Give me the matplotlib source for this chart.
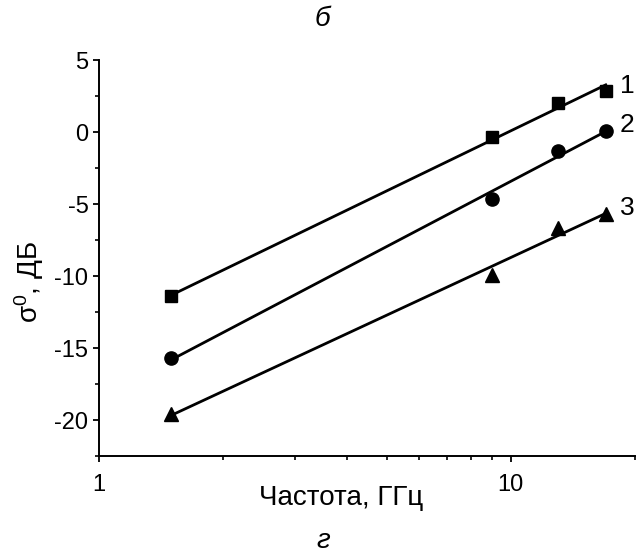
import numpy as np
import matplotlib.pyplot as plt
from matplotlib.ticker import NullFormatter, MultipleLocator

plt.rcParams['font.family'] = ['Liberation Sans', 'DejaVu Sans']
plt.rcParams['mathtext.fontset'] = 'custom'
plt.rcParams['mathtext.rm'] = 'Liberation Sans'
plt.rcParams['mathtext.it'] = 'Liberation Sans:italic'
plt.rcParams['axes.unicode_minus'] = False

# ─── Data: backscatter vs frequency ──────────────────────────────────
freq = [1.5, 9, 13, 17]                       # GHz
sigma_1 = [-11.4, -0.35, 2.0, 2.85]           # dB
sigma_2 = [-15.7, -4.65, -1.3, 0.1]
sigma_3 = [-19.55, -9.95, -6.65, -5.65]
series = [(sigma_1, 's', '1'), (sigma_2, 'o', '2'), (sigma_3, '^', '3')]
xticks = [1, 10]
xtick_labels = ['1', '10']
xminor = [2, 3, 4, 5, 6, 7, 8, 9, 20]

fig = plt.figure(figsize=(6.38, 5.57), dpi=100)
ax = fig.add_axes([0.155, 0.181, 0.84, 0.711])

lf = np.log10(freq)
for y, mk, name in series:
    # linear fit in log-frequency
    k, b = np.polyfit(lf, y, 1)
    xs = np.array([freq[0], freq[-1]])
    ax.plot(xs, k * np.log10(xs) + b, color='black', lw=2.0, zorder=2)
    ms = 8 if mk == 's' else 9.5
    ax.plot(freq, y, linestyle='none', marker=mk, ms=ms, color='black',
            zorder=3)
    ax.annotate(name, (freq[-1], y[-1]), xytext=(10, 4),
                textcoords='offset points', fontsize=19, va='center',
                ha='left')

ax.set_xscale('log')
ax.set_xlim(1, 20)
ax.set_ylim(-22.5, 5)

ax.set_xticks(xticks, xtick_labels, fontsize=17)
ax.set_xticks(xminor, minor=True)
ax.xaxis.set_minor_formatter(NullFormatter())
ax.yaxis.set_major_locator(MultipleLocator(5))
ax.yaxis.set_minor_locator(MultipleLocator(2.5))

for side in ['top', 'right']:
    ax.spines[side].set_visible(False)
for side in ['left', 'bottom']:
    ax.spines[side].set_linewidth(1.4)

ax.tick_params(which='major', length=4.5, width=1.3)
ax.tick_params(which='minor', length=3, width=1.2)
ax.tick_params(axis='x', which='major', pad=8, labelsize=17)
ax.tick_params(axis='y', which='major', pad=3, labelsize=17)

fig.text(0.535, 0.0934, 'Частота, ГГц', fontsize=20, ha='center',
         va='baseline')
fig.text(0.045, 0.494, r'$\mathregular{σ^0}$, ДБ', fontsize=20,
         rotation=90, ha='center', va='center')
fig.text(0.505, 0.966, 'б', fontsize=20, style='italic', ha='center',
         va='center')
fig.text(0.506, 0.028, 'г', fontsize=20, style='italic', ha='center',
         va='center')

fig.savefig('out.png', dpi=100)
